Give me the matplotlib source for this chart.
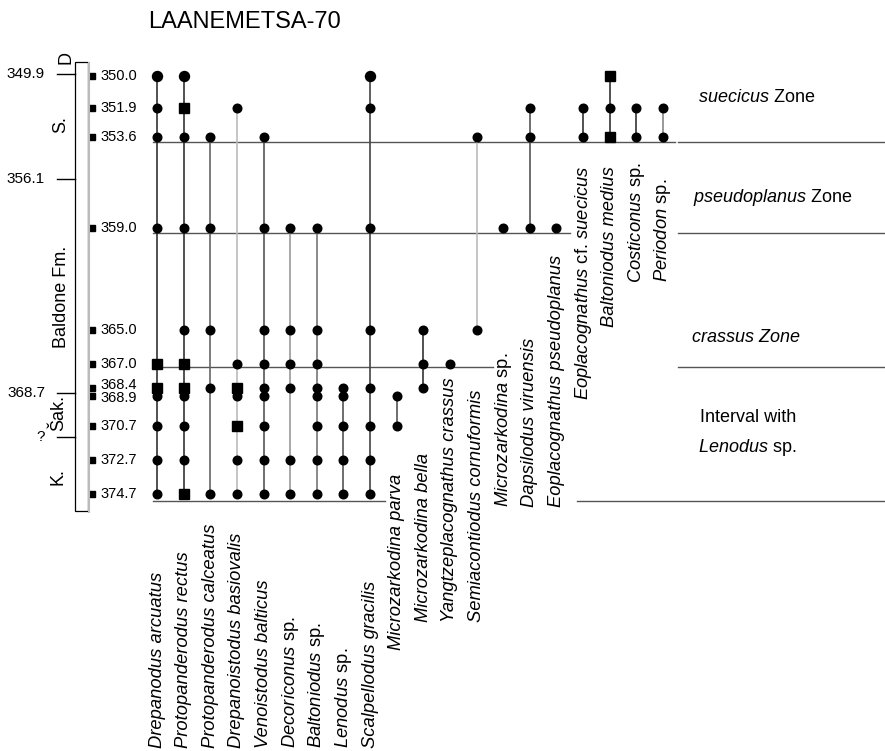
import matplotlib.pyplot as plt
from matplotlib.transforms import blended_transform_factory
from matplotlib.patches import Rectangle

plt.rcParams['font.family'] = ['Liberation Sans', 'DejaVu Sans']
plt.rcParams['mathtext.fontset'] = 'custom'
plt.rcParams['mathtext.rm'] = 'Liberation Sans'
plt.rcParams['mathtext.it'] = 'Liberation Sans:italic'

# sampled levels (m)
levels = [350.0, 351.9, 353.6, 359.0, 365.0, 367.0, 368.4, 368.9, 370.7, 372.7, 374.7]

taxa = [
    r"Drepanodus arcuatus",
    r"Protopanderodus rectus",
    r"Protopanderodus calceatus",
    r"Drepanoistodus basiovalis",
    r"Venoistodus balticus",
    r"$\mathit{Decoriconus}$ sp.",
    r"$\mathit{Baltoniodus}$ sp.",
    r"$\mathit{Lenodus}$ sp.",
    r"Scalpellodus gracilis",
    r"Microzarkodina parva",
    r"Microzarkodina bella",
    r"Yangtzeplacognathus crassus",
    r"Semiacontiodus cornuformis",
    r"$\mathit{Microzarkodina}$ sp.",
    r"Dapsilodus viruensis",
    r"Eoplacognathus pseudoplanus",
    r"$\mathit{Eoplacognathus}$ cf. $\mathit{suecicus}$",
    r"Baltoniodus medius",
    r"$\mathit{Costiconus}$ sp.",
    r"$\mathit{Periodon}$ sp.",
]

# levels where each taxon was found
occurrences = [
    [350.0, 351.9, 353.6, 359.0, 367.0, 368.4, 368.9, 370.7, 372.7, 374.7],
    [350.0, 351.9, 353.6, 359.0, 365.0, 367.0, 368.4, 368.9, 370.7, 372.7, 374.7],
    [353.6, 359.0, 365.0, 368.4, 374.7],
    [351.9, 367.0, 368.4, 368.9, 370.7, 372.7, 374.7],
    [353.6, 359.0, 365.0, 367.0, 368.4, 368.9, 370.7, 372.7, 374.7],
    [359.0, 365.0, 367.0, 368.4, 372.7, 374.7],
    [359.0, 365.0, 367.0, 368.4, 368.9, 370.7, 372.7, 374.7],
    [368.4, 368.9, 370.7, 372.7, 374.7],
    [350.0, 351.9, 359.0, 365.0, 368.4, 370.7, 372.7, 374.7],
    [368.9, 370.7],
    [365.0, 367.0, 368.4],
    [367.0],
    [353.6, 365.0],
    [359.0],
    [351.9, 353.6, 359.0],
    [359.0],
    [351.9, 353.6],
    [350.0, 351.9, 353.6],
    [351.9, 353.6],
    [351.9, 353.6],
]

# levels drawn with a square symbol
squares = [
    [367.0, 368.4],
    [351.9, 367.0, 368.4, 374.7],
    [], [368.4, 370.7], [], [], [], [], [], [], [], [], [], [], [], [], [],
    [350.0, 353.6],
    [], [],
]

zone_names = [r"$\mathit{suecicus}$ Zone", r"$\mathit{pseudoplanus}$ Zone",
              "crassus Zone", "Interval with", r"$\mathit{Lenodus}$ sp."]
zone_bases = [353.9, 359.3, 367.2, 375.1]

scale_ticks = [349.9, 356.1, 368.7, 371.3]
scale_labels = ["349.9", "356.1", "368.7", "?"]

units = ["D", "S.", "Baldone Fm.", "Šak.", "K."]

# ---- layout ----
W, H = 885, 751
top_px, px_per_m = 76, 16.93
fig = plt.figure(figsize=(W / 100, H / 100), dpi=100)
ax = fig.add_axes([0, 0, 1, 1])
ax.set_xlim(0, W)
ax.set_ylim(350 + (H - top_px) / px_per_m, 350 - top_px / px_per_m)
ax.axis('off')
lay = blended_transform_factory(ax.transData, ax.transAxes)


def fy(px):
    return 1 - px / H


col_x = [157 + i * 26.63 for i in range(len(taxa))]
line_cols = ['#333333', '#333333', '#666666', '#bbbbbb', '#555555', '#999999',
             '#777777', '#555555', '#444444', '#555555', '#333333', '#333333',
             '#bbbbbb', '#333333', '#555555', '#333333', '#333333', '#333333',
             '#333333', '#888888']
big_top = [0, 1, 8]
label_bottom = [748] * 9 + [650, 622, 622, 622, 507, 507, 507, 400, 327, 283, 282]

ax.text(245, fy(22), "LAANEMETSA-70", transform=lay, fontsize=17,
        ha='center', va='center')

# zone boundaries
left_ends = [675, 570, 493, 385]
right_starts = [678, 678, 678, 577]
for d, xe, xs in zip(zone_bases, left_ends, right_starts):
    ax.plot([153, xe], [d, d], color='#555555', lw=1)
    ax.plot([xs, W], [d, d], color='#555555', lw=1)

# range lines and occurrence symbols
for i, (occ, sq) in enumerate(zip(occurrences, squares)):
    x = col_x[i]
    if len(occ) > 1:
        ax.plot([x, x], [min(occ), max(occ)], color=line_cols[i], lw=1.2, zorder=2)
    for d in occ:
        if d in sq:
            ax.plot(x, d, 's', color='black', ms=6.5, zorder=3)
        else:
            ms = 7.2 if (i in big_top and d == 350.0) else 6.2
            ax.plot(x, d, 'o', color='black', ms=ms, zorder=3)
    st = 'normal' if '$' in taxa[i] else 'italic'
    ax.text(x, fy(label_bottom[i]), taxa[i], transform=lay, rotation=90,
            ha='center', va='bottom', fontsize=13.2, style=st)

# sample levels
ax.plot([92] * len(levels), levels, 's', color='black', ms=4.5)
nudge = {368.4: 1.5, 368.9: -1.5}
for d in levels:
    ax.annotate(f"{d:.1f}", (100, d), xytext=(0, nudge.get(d, 0)),
                textcoords='offset points', fontsize=10.5, va='center', ha='left')

# stratigraphic column
ax.add_patch(Rectangle((75, fy(511)), 13, (511 - 62) / H, transform=lay,
                       facecolor='white', edgecolor='black', lw=0.9))
ax.plot([89, 89], [fy(63), fy(512)], transform=lay, color='#bbbbbb', lw=1.5)
for d, s in zip(scale_ticks, scale_labels):
    ax.plot([57, 75], [d, d], color='black', lw=1)
    ax.text(45, d, s, fontsize=11, ha='right', va='center')

unit_pos = [(66, 57), (61, 125), (61, 297), (59, 413), (58, 477)]
for (x, y), u in zip(unit_pos, units):
    ax.text(x, fy(y), u, transform=lay, rotation=90, fontsize=13,
            ha='center', va='center')

# zone names
zone_pos = [(698, 97), (693, 197), (692, 338), (700, 417), (698, 448)]
for (x, y), z in zip(zone_pos, zone_names):
    st = 'italic' if z == "crassus Zone" else 'normal'
    ax.text(x, fy(y), z, transform=lay, fontsize=13, style=st,
            ha='left', va='center')

fig.savefig("out.png", dpi=100, facecolor='white')
